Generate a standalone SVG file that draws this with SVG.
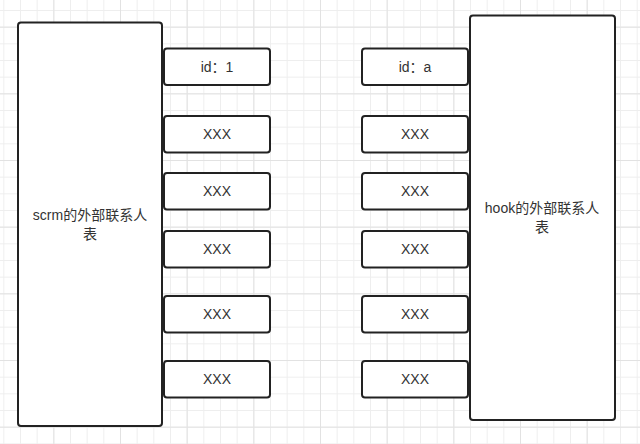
<svg xmlns="http://www.w3.org/2000/svg" width="640" height="444" viewBox="0 0 640 444">
<style>
.box{fill:#fff;stroke:#222;stroke-width:2}
.t{font-family:"Liberation Sans","Noto Sans CJK SC",sans-serif;font-size:14px;fill:#333;text-anchor:middle;dominant-baseline:central}
</style>
<defs>
<pattern id="minor" width="16.667" height="16.667" patternUnits="userSpaceOnUse" x="3.333" y="10">
<path d="M0 0.5H16.667M0.5 0V16.667" fill="none" stroke="#eeeeee" stroke-width="1"/>
</pattern>
<pattern id="major" width="66.667" height="66.667" patternUnits="userSpaceOnUse" x="53.333" y="26.667">
<path d="M0 0.5H66.667M0.5 0V66.667" fill="none" stroke="#e2e2e2" stroke-width="1"/>
</pattern>
</defs>
<rect width="640" height="444" fill="#fff"/>
<rect width="640" height="444" fill="url(#minor)"/>
<rect width="640" height="444" fill="url(#major)"/>
<g id="connectors"></g>
<g id="left-table"><rect class="box" x="18" y="22.5" width="144" height="403.5" rx="3"/>
<text class="t" x="90" y="215">scrm的外部联系人</text><text class="t" x="90" y="234">表</text></g>
<g id="right-table"><rect class="box" x="470" y="15.5" width="145" height="404.5" rx="3"/>
<text class="t" x="542" y="208">hook的外部联系人</text><text class="t" x="542" y="227">表</text></g>
<g id="l1"><rect class="box" x="164" y="48.5" width="106" height="36.5" rx="3"/><text class="t" x="217" y="67">id：1</text></g>
<g id="l2"><rect class="box" x="164" y="116" width="106" height="36.5" rx="3"/><text class="t" x="217" y="134">XXX</text></g>
<g id="l3"><rect class="box" x="164" y="173" width="106" height="36.5" rx="3"/><text class="t" x="217" y="191">XXX</text></g>
<g id="l4"><rect class="box" x="164" y="231" width="106" height="36.5" rx="3"/><text class="t" x="217" y="249">XXX</text></g>
<g id="l5"><rect class="box" x="164" y="296" width="106" height="36.5" rx="3"/><text class="t" x="217" y="314">XXX</text></g>
<g id="l6"><rect class="box" x="164" y="361" width="106" height="36.5" rx="3"/><text class="t" x="217" y="379">XXX</text></g>
<g id="r1"><rect class="box" x="362" y="48.5" width="106" height="36.5" rx="3"/><text class="t" x="415" y="67">id：a</text></g>
<g id="r2"><rect class="box" x="362" y="116" width="106" height="36.5" rx="3"/><text class="t" x="415" y="134">XXX</text></g>
<g id="r3"><rect class="box" x="362" y="173" width="106" height="36.5" rx="3"/><text class="t" x="415" y="191">XXX</text></g>
<g id="r4"><rect class="box" x="362" y="231" width="106" height="36.5" rx="3"/><text class="t" x="415" y="249">XXX</text></g>
<g id="r5"><rect class="box" x="362" y="296" width="106" height="36.5" rx="3"/><text class="t" x="415" y="314">XXX</text></g>
<g id="r6"><rect class="box" x="362" y="361" width="106" height="36.5" rx="3"/><text class="t" x="415" y="379">XXX</text></g>
</svg>
